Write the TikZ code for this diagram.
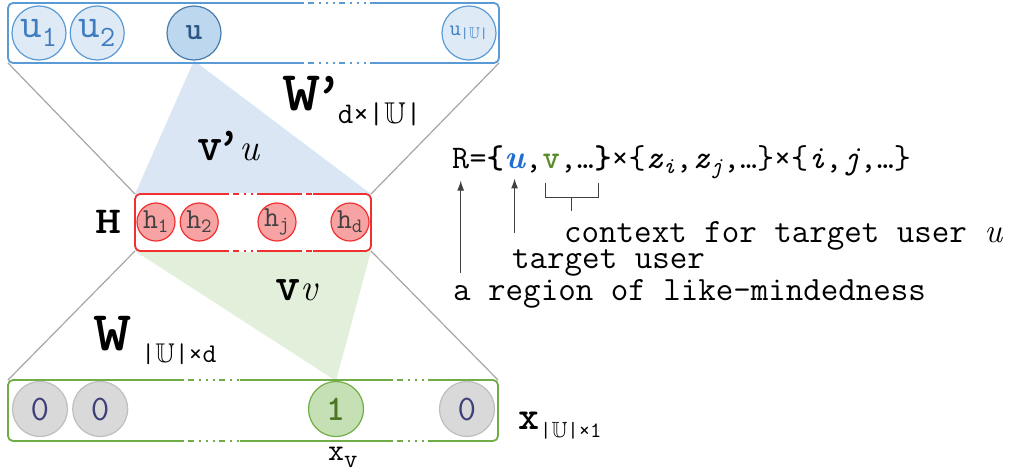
\documentclass[tikz,border=0pt]{standalone}
\usepackage{amssymb}
\usepackage{fontspec}
\usetikzlibrary{arrows.meta, positioning, calc, backgrounds}

\definecolor{ublue}{HTML}{5B9BD5}
\definecolor{ufill}{HTML}{DEEBF7}
\definecolor{ufillsel}{HTML}{BDD7EE}
\definecolor{ulabel}{HTML}{3F7CC0}
\definecolor{hred}{HTML}{F03030}
\definecolor{hfill}{HTML}{F7A3A3}
\definecolor{xgreen}{HTML}{70AD47}
\definecolor{xfill}{HTML}{D9D9D9}
\definecolor{xfillsel}{HTML}{C5E0B4}
\definecolor{triblue}{HTML}{DAE6F3}
\definecolor{trigreen}{HTML}{E2EFDA}
\definecolor{fmlu}{HTML}{1F6FD0}
\definecolor{fmlv}{HTML}{5B8C2A}

\newcommand{\UU}{$\mathbb{U}$}
\newcommand{\fs}[1]{\fontsize{#1}{#1}\selectfont}
\newcommand{\itrm}[1]{{\rmfamily\itshape\mdseries #1}}
% dash-dot gap in the top and bottom edge of a layer box
\newcommand{\edgegap}[4]{%
  \foreach \e in {north,south}{%
    \draw[white, line width=2.6pt] (#2,0 |- #1.\e) -- (#3,0 |- #1.\e);
    \draw[#4, gapline] (#2,0 |- #1.\e) -- (#3,0 |- #1.\e);
  }}

\begin{document}
\begin{tikzpicture}[
  x=1pt, y=-1pt,
  font=\ttfamily,
  >={Latex[length=10pt,width=7pt]},
  layerbox/.style={draw, line width=1.8pt, rounded corners=5pt, inner sep=0, outer sep=0},
  gapline/.style={line width=1.8pt, dash pattern=on 2pt off 4pt on 6pt off 5pt on 2pt off 5pt on 2pt off 5pt},
  ucirc/.style={circle, draw=ublue, line width=1.2pt, fill=ufill, minimum size=54pt, inner sep=0, text=ulabel, font=\ttfamily\fs{42}},
  hcirc/.style={circle, draw=hred, line width=1.2pt, fill=hfill, minimum size=38pt, inner sep=0, text=black!75, font=\ttfamily\fs{29}},
  xcirc/.style={circle, draw=black!25, line width=1.2pt, fill=xfill, minimum size=55pt, inner sep=0, text=blue!30!black!75, font=\ttfamily\fs{36}},
  proj/.style={draw=black!35, line width=1.2pt},
  lbl/.style={anchor=base west, inner sep=0},
  fml/.style={anchor=base west, inner sep=0, font=\ttfamily\fs{33}},
  note/.style={anchor=base west, inner sep=0, font=\ttfamily\fs{34}},
  arr/.style={->, draw=black!75, line width=1.2pt},
  brace/.style={draw=black!75, line width=1.2pt},
]
\useasboundingbox (0,0) rectangle (1024,474);

% layer boxes
\node[layerbox, draw=ublue, minimum width=491pt, minimum height=60pt] (users) at (253.5,33) {};
\node[layerbox, draw=hred, minimum width=236pt, minimum height=57pt] (hidden) at (253,222.5) {};
\node[layerbox, draw=xgreen, minimum width=490pt, minimum height=61pt] (input) at (253,410.5) {};

% output users
\node[ucirc] (u1) at (39,33) {u\textsubscript{1}};
\node[ucirc, right=3pt of u1] (u2) {u\textsubscript{2}};
\node[ucirc, fill=ufillsel, draw=ublue!80!black, text=ulabel!70!black, font=\ttfamily\fs{32}\bfseries] (ut) at (194,33) {u};
\node[ucirc, font=\ttfamily\fs{22}] (uN) at (469,33) {u\textsubscript{|\UU|}};

% hidden units
\node[hcirc] (h1) at (156,222) {h\textsubscript{1}};
\node[hcirc, right=4pt of h1] (h2) {h\textsubscript{2}};
\node[hcirc] (hj) at (277,222) {h\textsubscript{j}};
\node[hcirc] (hd) at (350,222) {h\textsubscript{d}};

% one-hot input
\node[xcirc] (x1) at (40,409) {0};
\node[xcirc, right=4pt of x1] (x2) {0};
\node[xcirc, fill=xfillsel, draw=xgreen, text=fmlv!85!black, font=\ttfamily\fs{36}\bfseries] (xv) at (336,409) {1};
\node[xcirc] (xN) at (467,409) {0};

% broken edges
\edgegap{users}{302}{370}{ublue}
\edgegap{hidden}{227}{257}{hred}
\edgegap{hidden}{300}{313}{hred}
\edgegap{input}{182}{240}{xgreen}
\edgegap{input}{391}{433}{xgreen}

% projections
\draw[proj] (users.south west) -- (hidden.north west);
\draw[proj] (users.south east) -- (hidden.north east);
\draw[proj] (hidden.south west) -- (input.north west);
\draw[proj] (hidden.south east) -- (input.north east);

\begin{scope}[on background layer]
  \fill[triblue] (ut.south) -- (hidden.north west) -- (hidden.north east) -- cycle;
  \fill[trigreen] (hidden.south west) -- (hidden.south east) -- (xv.north) -- cycle;
\end{scope}

% weight and vector labels
\node[lbl] (wout) at (282,110) {\fs{56}\bfseries\scalebox{1.3}[1]{W}\hspace{-6pt}’\hspace{-6pt}\raisebox{-13pt}{\fs{30}\mdseries d×|\UU|}};
\node[lbl] (vout) at (197,160) {\fs{48}\bfseries v\hspace{-6pt}’\hspace{-2pt}\itrm{\fs{38}u}};
\node[lbl] (hlbl) at (95,233) {\fs{38}\bfseries\scalebox{1.3}[1]{H}};
\node[lbl] (vin) at (275,300) {\fs{48}\bfseries v\itrm{\fs{38}v}};
\node[lbl] (win) at (93,350) {\fs{56}\bfseries\scalebox{1.3}[1]{W}\hspace{10pt}\raisebox{-12pt}{\fs{27}\mdseries|\UU|×d}};
\node[lbl] (xlbl) at (518,429) {\fs{40}\bfseries x\hspace{1pt}\raisebox{-8pt}{\fs{22}\mdseries|\UU|×1}};
\node[lbl] (xvlbl) at (328,460) {\fs{31}x\raisebox{-7pt}{\fs{26}v}};

% region formula
\node[fml] (rR) at (452,168) {R};
\node[fml] (req) at (rR.base east) {=\textbf{\{}};
\node[fml, text=fmlu] (ru) at (req.base east) {{\rmfamily\bfseries\itshape u}};
\node[fml] (rc) at (ru.base east) {,};
\node[fml] (rv) at (rc.base east) {\textcolor{fmlv}{\textbf{v}},…};
\node[fml] (rrest) at (rv.base east) {\textbf{\}}×\{\textit{z}\textsubscript{\textit{i}},\textit{z}\textsubscript{\textit{j}},…\}×\{\textit{i},\textit{j},…\}};

% annotations
\node[note] (context) at (564,242) {context for target user \itrm{u}};
\node[note] (target) at (512,268) {target user};
\node[note] (region) at (453,300) {a region of like-mindedness};

\draw[arr] (region.north -| rR.south) ++(0,-6) -- ([yshift=-12pt]rR.south);
\draw[arr] (target.north -| ru.south) ++(0,-16) -- ([yshift=-10pt]ru.south);

\coordinate (bl) at ([xshift=3pt,yshift=-10pt]rv.south west);
\coordinate (br) at ([xshift=4pt,yshift=-10pt]rv.south east);
\coordinate (bm) at ($(bl)!0.5!(br)$);
\draw[brace] (bl) -- ++(0,15) -| (br);
\draw[brace] (bm) ++(0,15) -- ($(bm |- context.north)+(0,-10)$);

\end{tikzpicture}
\end{document}
